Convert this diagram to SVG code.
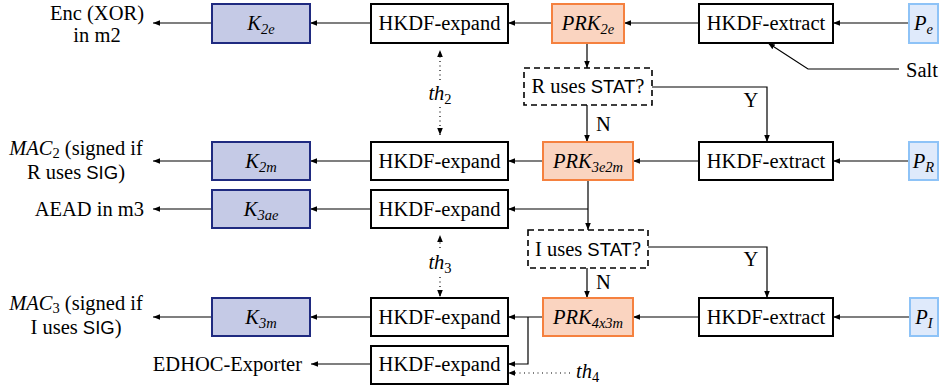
<svg xmlns="http://www.w3.org/2000/svg" width="940" height="389" viewBox="0 0 940 389">
<defs>
<marker id="ah" viewBox="0 0 10 10" refX="10" refY="5" markerWidth="7" markerHeight="7" markerUnits="userSpaceOnUse" orient="auto">
<path d="M0,1 L10,5 L0,9 Z" fill="#000"/>
</marker>
</defs>
<style>
text{font-family:"Liberation Serif","Times New Roman",serif;font-size:20.5px;fill:#000}
.c{text-anchor:middle}
.e{text-anchor:end}
.i{font-style:italic}
.sf{font-family:"Liberation Sans",Arial,sans-serif;font-size:18.5px}
.sub{font-size:14.5px}
.box{fill:#fff;stroke:#000;stroke-width:2}
.dec{fill:#fff;stroke:#000;stroke-width:1.6;stroke-dasharray:6,4}
.key{fill:#c5cae6;stroke:#1f2a80;stroke-width:2}
.prk{fill:#fad4c0;stroke:#f5813f;stroke-width:2}
.inp{fill:#dfeafb;stroke:#8ec3f7;stroke-width:2}
.ar{fill:none;stroke:#000;stroke-width:1.2;marker-end:url(#ah)}
.dt{fill:none;stroke:#000;stroke-width:1.2;stroke-dasharray:1,3.5;marker-end:url(#ah)}
</style>

<g id="connectors">
<line class="ar" x1="909" y1="23" x2="833" y2="23"/>
<line class="ar" x1="698" y1="23" x2="624" y2="23"/>
<line class="ar" x1="552" y1="23" x2="508" y2="23"/>
<line class="ar" x1="370" y1="23" x2="310" y2="23"/>
<line class="ar" x1="212" y1="23" x2="153" y2="23"/>
<polyline class="ar" points="899,69 808,69 768,43"/>
<line class="ar" x1="587" y1="43" x2="587" y2="68"/>
<line class="ar" x1="587" y1="105" x2="587" y2="142"/>
<polyline class="ar" points="652,87 767,87 767,142"/>
<line class="ar" x1="909" y1="161" x2="833" y2="161"/>
<line class="ar" x1="698" y1="161" x2="633" y2="161"/>
<line class="ar" x1="543" y1="161" x2="508" y2="161"/>
<line class="ar" x1="370" y1="161" x2="310" y2="161"/>
<line class="ar" x1="212" y1="161" x2="153" y2="161"/>
<line class="ar" x1="588" y1="180" x2="588" y2="230"/>
<polyline class="ar" points="588,209 508,209"/>
<line class="ar" x1="370" y1="209" x2="310" y2="209"/>
<line class="ar" x1="212" y1="209" x2="153" y2="209"/>
<polyline class="ar" points="648,247 767,247 767,298"/>
<line class="ar" x1="587" y1="268" x2="587" y2="298"/>
<line class="ar" x1="910" y1="317" x2="833" y2="317"/>
<line class="ar" x1="698" y1="317" x2="633" y2="317"/>
<line class="ar" x1="543" y1="317" x2="508" y2="317"/>
<line class="ar" x1="370" y1="317" x2="310" y2="317"/>
<line class="ar" x1="212" y1="317" x2="153" y2="317"/>
<polyline class="ar" points="528,317 528,364 508,364"/>
<line class="ar" x1="370" y1="364" x2="311" y2="364"/>
<line class="dt" x1="440" y1="80" x2="440" y2="50"/>
<line class="dt" x1="440" y1="107" x2="440" y2="135"/>
<line class="dt" x1="440" y1="248" x2="440" y2="235"/>
<line class="dt" x1="440" y1="277" x2="440" y2="297"/>
<line class="dt" x1="570" y1="373" x2="508" y2="373"/>
</g>

<g id="labels">
<text x="97" y="20" class="c">Enc (XOR)</text>
<text x="97" y="42" class="c">in m2</text>
<text x="76" y="155" class="c"><tspan class="i">MAC</tspan><tspan class="sub" dy="3">2</tspan><tspan dy="-3"> (signed if</tspan></text>
<text x="76" y="179" class="c">R uses <tspan class="sf">SIG</tspan>)</text>
<text x="144" y="216" class="e">AEAD in m3</text>
<text x="76" y="310" class="c"><tspan class="i">MAC</tspan><tspan class="sub" dy="3">3</tspan><tspan dy="-3"> (signed if</tspan></text>
<text x="76" y="334" class="c">I uses <tspan class="sf">SIG</tspan>)</text>
<text x="302" y="371" class="e">EDHOC-Exporter</text>
<text x="906" y="77">Salt</text>
<text x="596" y="131">N</text>
<text x="751" y="107" class="c">Y</text>
<text x="596" y="289">N</text>
<text x="751" y="266" class="c">Y</text>
<text x="440" y="100" class="c"><tspan class="i">th</tspan><tspan class="sub" dy="4">2</tspan></text>
<text x="440" y="269" class="c"><tspan class="i">th</tspan><tspan class="sub" dy="4">3</tspan></text>
<text x="576" y="378"><tspan class="i">th</tspan><tspan class="sub" dy="4">4</tspan></text>
</g>

<g id="K2e"><rect class="key" x="212" y="4" width="98" height="39"/><text x="261" y="30" class="c i">K<tspan class="sub" dy="4">2e</tspan></text></g>
<g id="expand1"><rect class="box" x="371" y="4" width="137" height="39"/><text x="439.5" y="30" class="c">HKDF-expand</text></g>
<g id="PRK2e"><rect class="prk" x="552" y="4" width="72" height="39"/><text x="588" y="30" class="c i">PRK<tspan class="sub" dy="4">2e</tspan></text></g>
<g id="extract1"><rect class="box" x="699" y="4" width="134" height="39"/><text x="766" y="30" class="c">HKDF-extract</text></g>
<g id="Pe"><rect class="inp" x="909" y="4" width="29" height="39"/><text x="923.5" y="30" class="c i">P<tspan class="sub" dy="4">e</tspan></text></g>

<g id="decR"><rect class="dec" x="524" y="68" width="128" height="37"/><text x="588" y="93" class="c">R uses <tspan class="sf">STAT</tspan>?</text></g>

<g id="K2m"><rect class="key" x="212" y="142" width="98" height="38"/><text x="261" y="168" class="c i">K<tspan class="sub" dy="4">2m</tspan></text></g>
<g id="expand2"><rect class="box" x="371" y="142" width="137" height="38"/><text x="439.5" y="168" class="c">HKDF-expand</text></g>
<g id="PRK3e2m"><rect class="prk" x="543" y="142" width="90" height="38"/><text x="588" y="168" class="c i">PRK<tspan class="sub" dy="4">3e2m</tspan></text></g>
<g id="extract2"><rect class="box" x="699" y="142" width="134" height="38"/><text x="766" y="168" class="c">HKDF-extract</text></g>
<g id="PR"><rect class="inp" x="909" y="142" width="29" height="38"/><text x="923.5" y="168" class="c i">P<tspan class="sub" dy="4">R</tspan></text></g>

<g id="K3ae"><rect class="key" x="212" y="190" width="98" height="38"/><text x="261" y="216" class="c i">K<tspan class="sub" dy="4">3ae</tspan></text></g>
<g id="expand3"><rect class="box" x="371" y="190" width="137" height="38"/><text x="439.5" y="216" class="c">HKDF-expand</text></g>

<g id="decI"><rect class="dec" x="528" y="230" width="120" height="38"/><text x="588" y="256" class="c">I uses <tspan class="sf">STAT</tspan>?</text></g>

<g id="K3m"><rect class="key" x="212" y="298" width="98" height="38"/><text x="261" y="324" class="c i">K<tspan class="sub" dy="4">3m</tspan></text></g>
<g id="expand4"><rect class="box" x="371" y="298" width="137" height="38"/><text x="439.5" y="324" class="c">HKDF-expand</text></g>
<g id="PRK4x3m"><rect class="prk" x="543" y="298" width="90" height="38"/><text x="588" y="324" class="c i">PRK<tspan class="sub" dy="4">4x3m</tspan></text></g>
<g id="extract3"><rect class="box" x="699" y="298" width="134" height="38"/><text x="766" y="324" class="c">HKDF-extract</text></g>
<g id="PI"><rect class="inp" x="910" y="298" width="28" height="38"/><text x="924" y="324" class="c i">P<tspan class="sub" dy="4">I</tspan></text></g>

<g id="expand5"><rect class="box" x="371" y="346" width="137" height="38"/><text x="439.5" y="371" class="c">HKDF-expand</text></g>
</svg>
